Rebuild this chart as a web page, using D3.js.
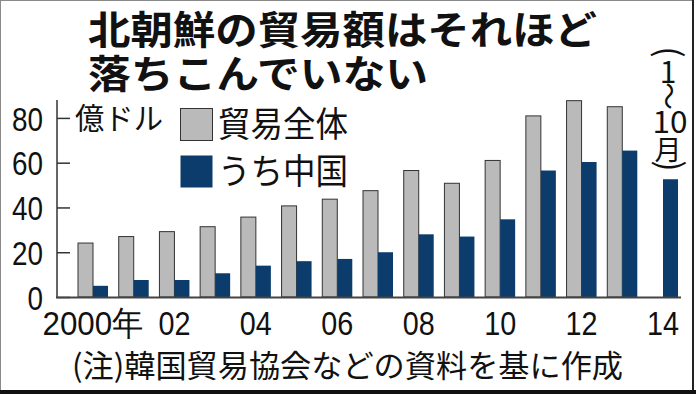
<!DOCTYPE html>
<html>
<head>
<meta charset="utf-8">
<script src="https://cdn.jsdelivr.net/npm/d3@7"></script>
<style>
  body { margin: 0; background: #fff; }
  svg { display: block; }
</style>
</head>
<body>
<div id="chart-area"></div>
<script>
// data (億ドル)
var years = [2000, 2001, 2002, 2003, 2004, 2005, 2006, 2007, 2008, 2009, 2010, 2011, 2012, 2013, 2014];
var totalTrade = [24.1, 27, 29.2, 31.4, 35.7, 40.7, 43.7, 47.5, 56.5, 50.8, 61, 80.9, 87.7, 85, null];
var chinaTrade = [5, 7.6, 7.6, 10.6, 14, 16, 17, 20, 28, 27, 34.7, 56.5, 60.3, 65.4, 52.6];
var seriesNames = ["貿易全体", "うち中国"];
var yTicks = [0, 20, 40, 60, 80];
var xTickYears = [2000, 2002, 2004, 2006, 2008, 2010, 2012, 2014];
var xTickLabels = ["2000年", "02", "04", "06", "08", "10", "12", "14"];

var W = 696, H = 394;
var cjk = "'Noto Sans CJK JP', 'Noto Sans', sans-serif";
var num = "'Liberation Sans', Arial, sans-serif";
var grey = "#bababa", navy = "#0b3c6b";

var svg = d3.select("#chart-area")
	.append("svg")
	.attr("width", W)
	.attr("height", H);

// frame
svg.append("rect")
	.attr("x", 0.5).attr("y", 0.5)
	.attr("width", 692).attr("height", 390)
	.attr("fill", "#fff")
	.attr("stroke", "#8a8a8a");
svg.append("rect")
	.attr("x", 692).attr("y", 0)
	.attr("width", 2).attr("height", 394)
	.attr("fill", "#222");
svg.append("rect")
	.attr("x", 0).attr("y", 390)
	.attr("width", W).attr("height", 4)
	.attr("fill", "#111");

// title
var title = svg.append("g")
	.attr("font-family", cjk)
	.attr("font-weight", "bold")
	.attr("font-size", "39px")
	.attr("fill", "#111");
title.append("text")
	.attr("x", 88).attr("y", 44)
	.attr("textLength", 509)
	.attr("lengthAdjust", "spacingAndGlyphs")
	.text("北朝鮮の貿易額はそれほど");
title.append("text")
	.attr("x", 88).attr("y", 88)
	.attr("textLength", 340)
	.attr("lengthAdjust", "spacingAndGlyphs")
	.text("落ちこんでいない");

// scales
var x = d3.scaleBand()
	.domain(years)
	.range([78, 678])
	.paddingInner(0.263)
	.paddingOuter(0);

var xSub = d3.scaleBand()
	.domain(seriesNames)
	.range([0, x.bandwidth()]);

var y = d3.scaleLinear()
	.domain([0, 88])
	.range([297, 100]);

var rows = years.map(function (yr, i) {
	return { year: yr, values: [
		{ key: seriesNames[0], v: totalTrade[i] },
		{ key: seriesNames[1], v: chinaTrade[i] }
	] };
});

// bars
var groups = svg.selectAll("g.year")
	.data(rows)
	.enter()
	.append("g")
	.attr("class", "year")
	.attr("transform", d => "translate(" + x(d.year) + ",0)");

groups.selectAll("rect")
	.data(d => d.values.filter(v => v.v != null))
	.enter()
	.append("rect")
	.attr("x", d => xSub(d.key))
	.attr("y", d => y(d.v))
	.attr("width", xSub.bandwidth())
	.attr("height", d => y(0) - y(d.v))
	.attr("fill", d => d.key === seriesNames[0] ? grey : navy)
	.attr("stroke", d => d.key === seriesNames[0] ? "#333" : "none")
	.attr("stroke-width", 1);

// y axis
var yAxisCall = d3.axisLeft(y)
	.tickValues(yTicks)
	.tickSize(-13)
	.tickPadding(14)
	.tickFormat(d => String(d));

var yAxisGroup = svg.append("g")
	.attr("transform", "translate(57,0)")
	.call(yAxisCall);
yAxisGroup.select(".domain").remove();
yAxisGroup.selectAll(".tick line")
	.attr("stroke", "#333")
	.attr("stroke-width", 1.5);
yAxisGroup.selectAll(".tick text")
	.attr("font-family", num)
	.attr("font-size", "34px")
	.attr("fill", "#111")
	.attr("dy", "0.36em")
	.attr("textLength", d => String(d).length * 15.5)
	.attr("lengthAdjust", "spacingAndGlyphs");

svg.append("line")
	.attr("x1", 57).attr("x2", 57)
	.attr("y1", y(88)).attr("y2", y(0))
	.attr("stroke", "#333")
	.attr("stroke-width", 1.5);

// baseline
svg.append("line")
	.attr("x1", 56).attr("x2", x(2014) + x.bandwidth() + 3)
	.attr("y1", y(0) + 0.5).attr("y2", y(0) + 0.5)
	.attr("stroke", "#444")
	.attr("stroke-width", 2);

// x axis
var xAxisCall = d3.axisBottom(x)
	.tickValues(xTickYears)
	.tickSize(0)
	.tickFormat((d, i) => xTickLabels[i]);

var xAxisGroup = svg.append("g")
	.attr("transform", "translate(0," + y(0) + ")")
	.call(xAxisCall);
xAxisGroup.select(".domain").remove();
xAxisGroup.selectAll(".tick text")
	.attr("font-family", num)
	.attr("font-size", "34px")
	.attr("fill", "#111")
	.attr("y", 38)
	.attr("dy", 0)
	.attr("textLength", (d, i) => i === 0 ? 101 : 32)
	.attr("lengthAdjust", "spacingAndGlyphs");

// unit
svg.append("text")
	.attr("x", 75).attr("y", 129)
	.attr("font-family", cjk)
	.attr("font-size", "30px")
	.attr("fill", "#111")
	.attr("textLength", 88)
	.attr("lengthAdjust", "spacingAndGlyphs")
	.text("億ドル");

// legend
var legend = svg.selectAll("g.legend")
	.data(seriesNames)
	.enter()
	.append("g")
	.attr("class", "legend")
	.attr("transform", (d, i) => "translate(180," + (108 + i * 47) + ")");
legend.append("rect")
	.attr("x", 0.5).attr("y", 0.5)
	.attr("width", 32).attr("height", 32)
	.attr("fill", (d, i) => i === 0 ? grey : navy)
	.attr("stroke", (d, i) => i === 0 ? "#333" : "none");
legend.append("text")
	.attr("x", 38).attr("y", 29)
	.attr("font-family", cjk)
	.attr("font-size", "35px")
	.attr("fill", "#111")
	.attr("textLength", 130)
	.attr("lengthAdjust", "spacingAndGlyphs")
	.text(d => d);

// (1~10月) vertical note
var note = svg.append("g")
	.attr("font-family", cjk)
	.attr("font-size", "30px")
	.attr("fill", "#111")
	.attr("text-anchor", "middle");
note.append("text")
	.attr("transform", "translate(668,52) rotate(90)")
	.attr("dy", "0.33em")
	.attr("font-size", "34px")
	.text("(");
note.append("text").attr("x", 668).attr("y", 83).text("1");
note.append("text")
	.attr("transform", "translate(668,96) rotate(90)")
	.attr("font-size", "28px")
	.attr("dy", "0.35em")
	.text("〜");
note.append("text").attr("x", 670).attr("y", 133)
	.attr("textLength", 35).attr("lengthAdjust", "spacingAndGlyphs")
	.text("10");
note.append("text").attr("x", 668).attr("y", 160)
	.attr("font-size", "27px")
	.text("月");
note.append("text")
	.attr("transform", "translate(669,166) rotate(90)")
	.attr("dy", "0.33em")
	.attr("font-size", "34px")
	.text(")");

// source
svg.append("text")
	.attr("x", 72).attr("y", 377)
	.attr("font-family", cjk)
	.attr("font-size", "31px")
	.attr("fill", "#111")
	.attr("textLength", 551)
	.attr("lengthAdjust", "spacingAndGlyphs")
	.text("(注)韓国貿易協会などの資料を基に作成");
</script>
</body>
</html>
